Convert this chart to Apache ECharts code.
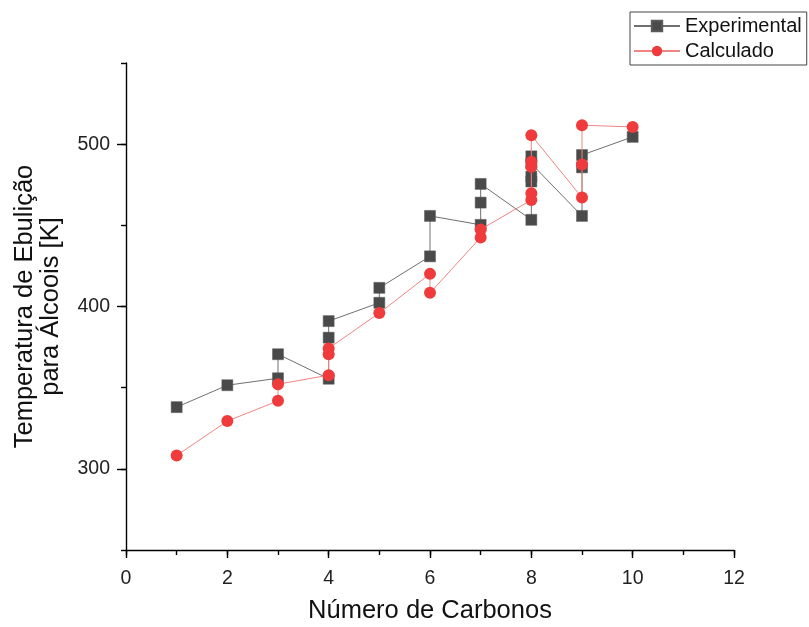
<!DOCTYPE html>
<html>
<head>
<meta charset="utf-8">
<script src="https://cdn.jsdelivr.net/npm/echarts@6/dist/echarts.min.js"></script>
<style>html,body{margin:0;padding:0;background:#fff}#c{width:809px;height:627px}</style>
</head>
<body>
<div id="c"></div>
<script>
var expX = [1,2,3,3,4,4,4,5,5,6,6,7,7,7,8,8,8,8,8,9,9,9,10];
var expY = [338,351.5,355.8,370.6,355.5,380.8,391,402.3,411.5,430.9,455.8,450.3,464,475.5,453.4,477,480,492.5,488,455.8,485.7,493.3,504.5];
var calcX = [1,2,3,3,4,4,4,5,6,6,7,7,8,8,8,8,8,9,9,9,10];
var calcY = [308.2,329.4,341.9,352.1,357.7,370.6,374.2,396,420.1,408.4,442.5,447.5,465.6,469.8,486.1,489.1,505.5,467.1,487.5,511.7,510.6];
var xMajorTicks = [0,2,4,6,8,10,12];
var yMajorTicks = [300,400,500];
var seriesNames = ['Experimental','Calculado'];
var xTitle = 'Número de Carbonos';
var yTitle = 'Temperatura de Ebulição\npara Álcoois [K]';

function pairs(xs, ys){ return xs.map(function(x,i){ return [x, ys[i]]; }); }

var FONT = 'Liberation Sans, Arial, sans-serif';
var chart = echarts.init(document.getElementById('c'), null, {renderer:'canvas'});
var grid = {left:126, right:75, top:63, bottom:77, containLabel:false, outerBoundsMode:'none'};
chart.setOption({
  animation:false,
  backgroundColor:'#fff',
  grid: grid,
  legend: {
    orient:'vertical', left:630, top:12,
    data: seriesNames,
    itemWidth:46, itemHeight:13, itemGap:5,
    padding:[4,5,4,3],
    borderColor:'#444', borderWidth:1,
    textStyle:{fontFamily:FONT, fontSize:20, color:'#111'}
  },
  xAxis: [{
    type:'value', min:0, max:12, interval:1,
    axisLine:{show:true, onZero:false, lineStyle:{color:'#000', width:1.4}},
    axisTick:{show:true, length:5, lineStyle:{color:'#000', width:1.4}},
    axisLabel:{margin:19, fontFamily:FONT, fontSize:19.5, color:'#222',
      formatter:function(v){ return v%2===0 ? String(v) : ''; }},
    splitLine:{show:false},
    name: xTitle, nameLocation:'middle', nameGap:48,
    nameTextStyle:{fontFamily:FONT, fontSize:25.5, color:'#111'}
  },{
    type:'value', min:0, max:12, interval:1, position:'bottom',
    axisLine:{show:false},
    axisTick:{show:true, length:8, customValues:xMajorTicks, lineStyle:{color:'#000', width:1.4}},
    axisLabel:{show:false}, splitLine:{show:false}
  }],
  yAxis: [{
    type:'value', min:250, max:550, interval:50,
    axisLine:{show:true, onZero:false, lineStyle:{color:'#000', width:1.4}},
    axisTick:{show:true, length:5, lineStyle:{color:'#000', width:1.4}},
    axisLabel:{margin:16, fontFamily:FONT, fontSize:19.5, color:'#222',
      formatter:function(v){ return yMajorTicks.indexOf(v)>=0 ? String(v) : ''; }},
    splitLine:{show:false},
    name: yTitle, nameLocation:'middle', nameGap:62, nameRotate:90,
    nameTextStyle:{fontFamily:FONT, fontSize:25.5, color:'#111', lineHeight:26, align:'center'}
  },{
    type:'value', min:250, max:550, interval:50, position:'left',
    axisLine:{show:false},
    axisTick:{show:true, length:9, customValues:yMajorTicks, lineStyle:{color:'#000', width:1.4}},
    axisLabel:{show:false}, splitLine:{show:false}
  }],
  series: [{
    name: seriesNames[0], type:'line', xAxisIndex:0, yAxisIndex:0,
    data: pairs(expX, expY),
    symbol:'rect', symbolSize:11,
    lineStyle:{color:'#707070', width:1},
    itemStyle:{color:'#4a4a4a', borderColor:'#5a5a5a', borderWidth:0.5},
    z:2
  },{
    name: seriesNames[1], type:'line', xAxisIndex:0, yAxisIndex:0,
    data: pairs(calcX, calcY),
    symbol:'circle', symbolSize:12,
    lineStyle:{color:'#f08585', width:1},
    itemStyle:{color:'#ef3b3b'},
    z:3
  }]
});
</script>
</body>
</html>
